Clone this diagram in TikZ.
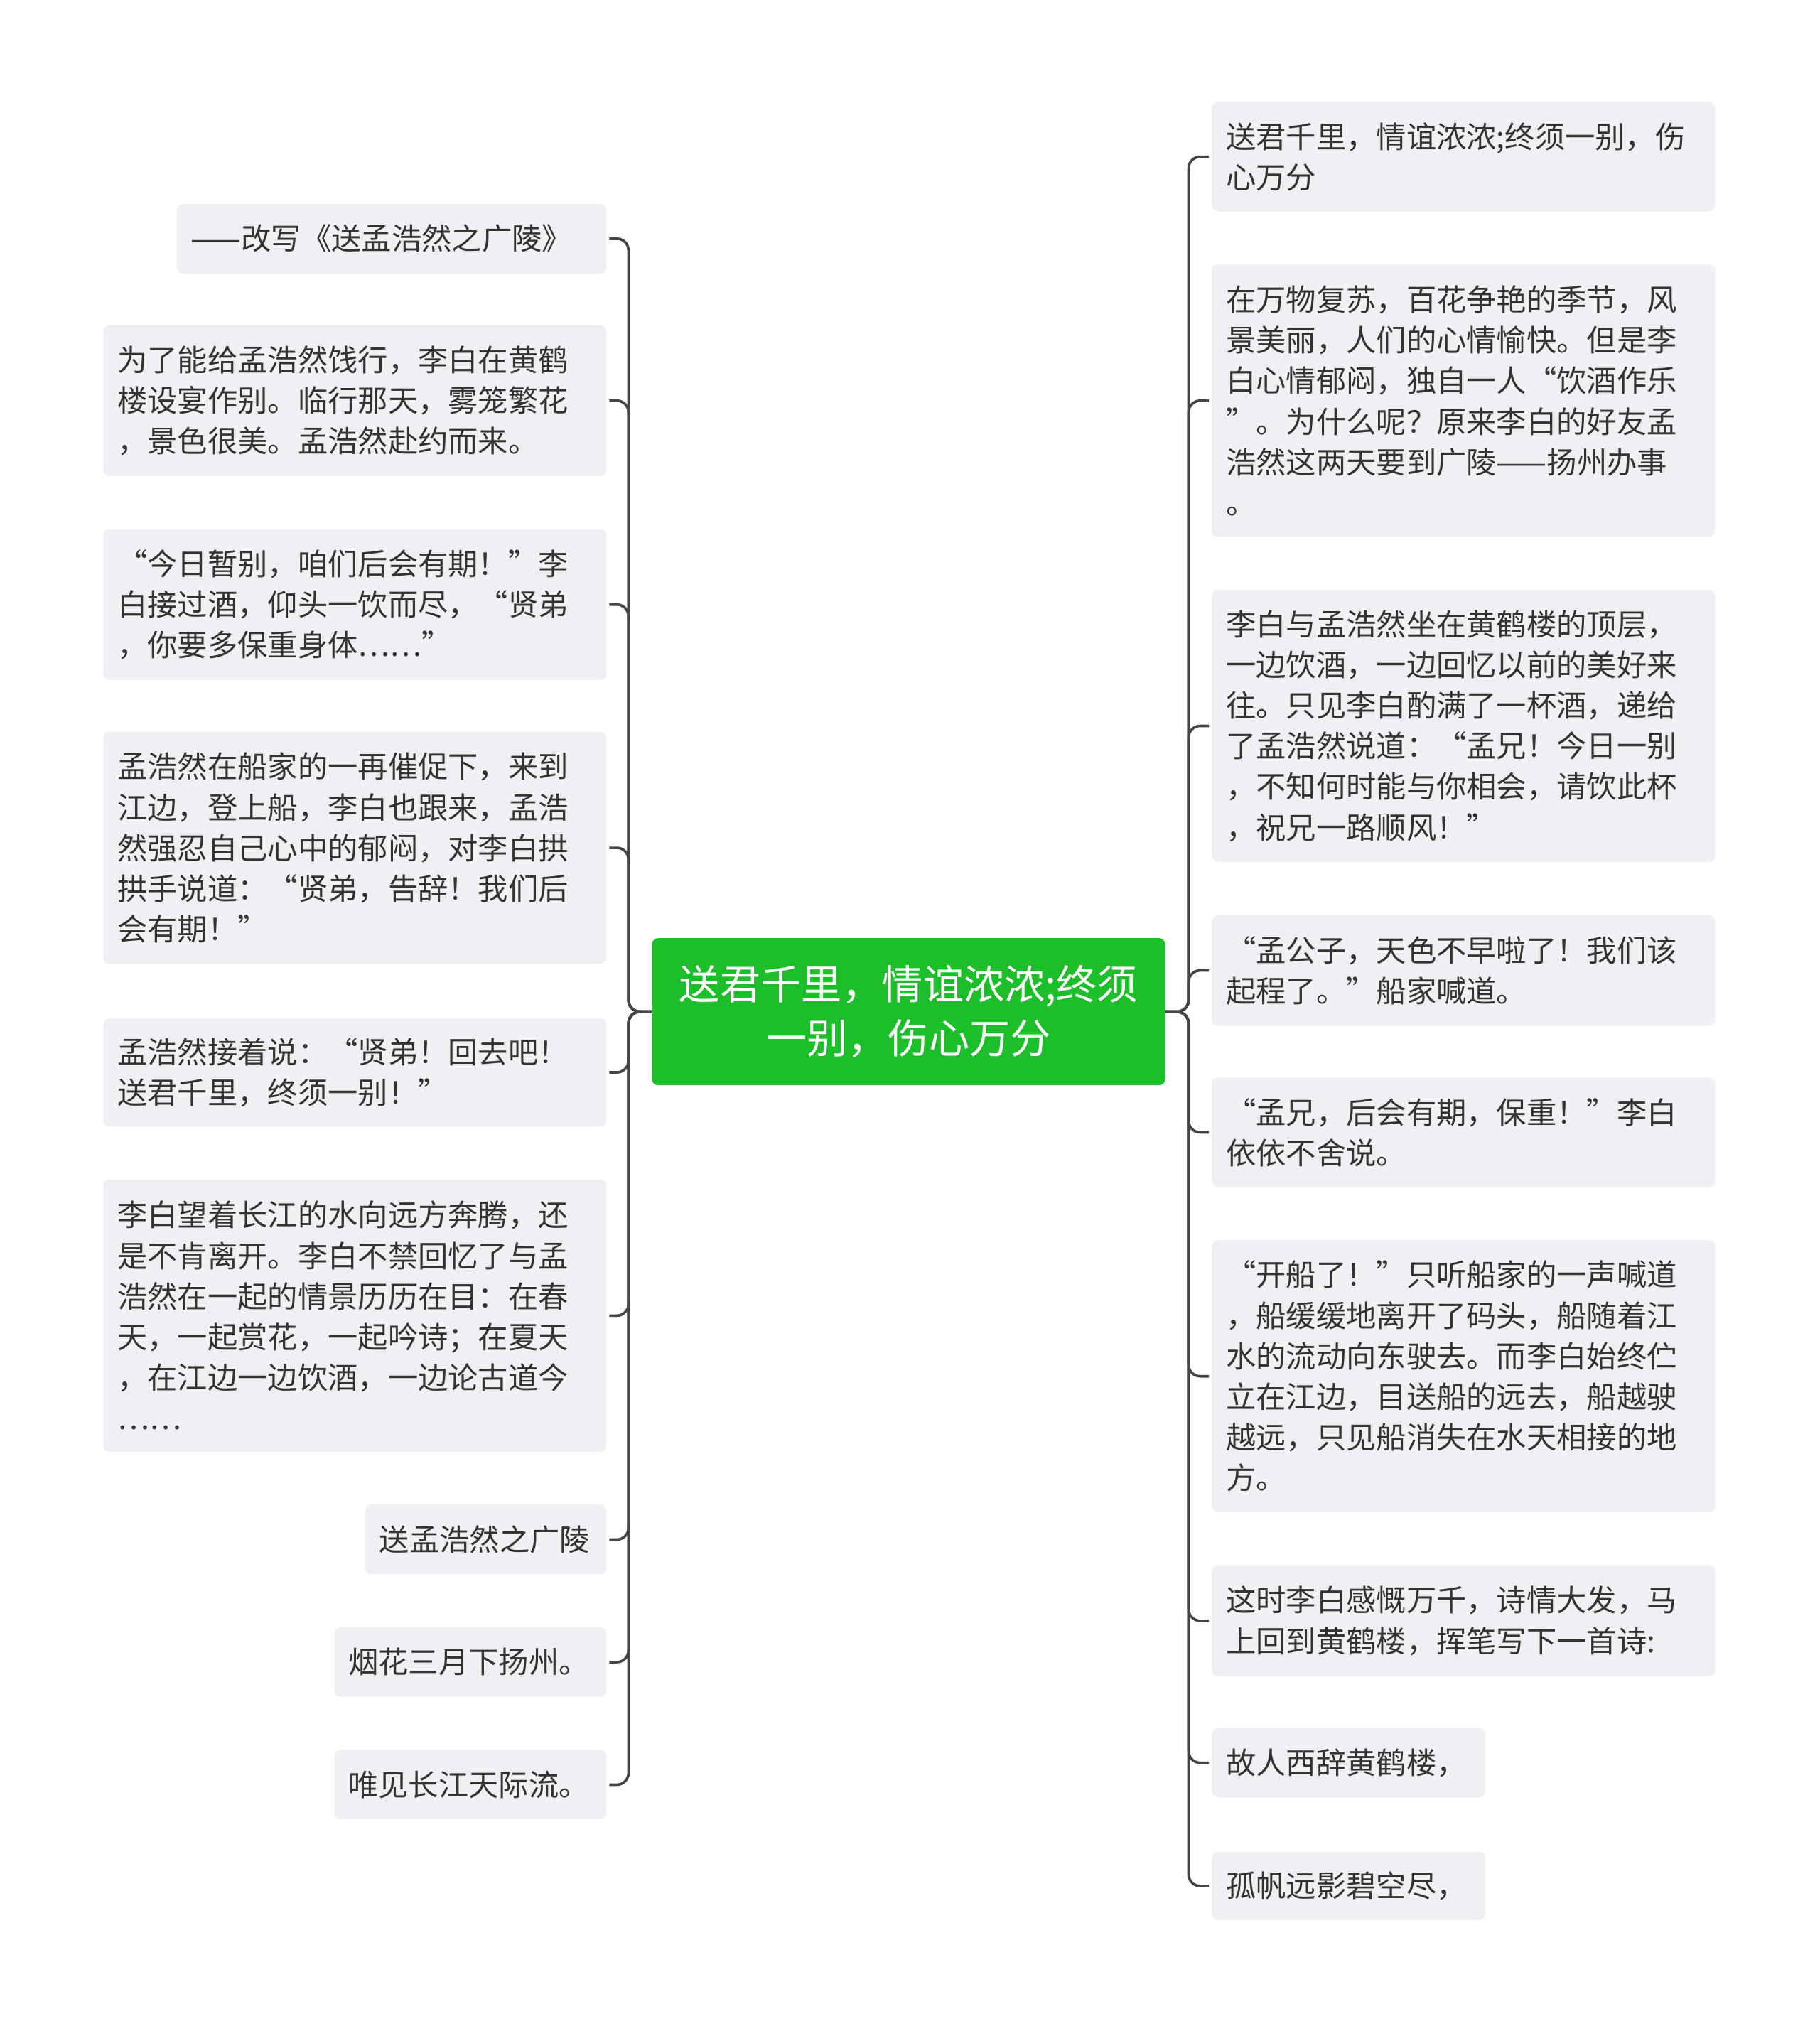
\documentclass[tikz,border=0pt]{standalone}
\usepackage{fontspec}
\setmainfont{Noto Sans CJK SC}
\begin{document}
\begin{tikzpicture}[x=1pt,y=1pt]
\definecolor{boxc}{HTML}{EEF0F3}
\definecolor{txt}{HTML}{333333}
\definecolor{gr}{HTML}{1CBF29}
\definecolor{ln}{HTML}{444444}
\tikzset{bx/.style={fill=boxc,rounded corners=5pt,inner sep=0pt,align=left,text=txt,font=\fontsize{23.3}{31.5}\selectfont},
 con/.style={draw=ln,line width=2pt,rounded corners=9pt}}
\useasboundingbox (0,0) rectangle (1410,-1570);
\fill[white] (0,0) rectangle (1410,-1570);
\newcommand\bx[6]{\node[bx,minimum width=#4-#2,minimum height=#5-#3,text width=#4-#2-22] (#1) at ({(#2+#4)/2+1},{-(#3+#5)/2}) {#6};}
\node[fill=gr,rounded corners=5pt,minimum width=398,minimum height=114,text=white,align=center,font=\fontsize{31.5}{42}\selectfont] (c) at (704,-784) {送君千里，情谊浓浓;终须\\一别，伤心万分};
% left
\bx{l1}{136}{158}{469}{212}{——改写《送孟浩然之广陵》}
\bx{l2}{79}{252}{469}{369}{为了能给孟浩然饯行，李白在黄鹤\\楼设宴作别。临行那天，雾笼繁花\\，景色很美。孟浩然赴约而来。}
\bx{l3}{79}{410}{469}{527}{“今日暂别，咱们后会有期！”李\\白接过酒，仰头一饮而尽，“贤弟\\，你要多保重身体……”}
\bx{l4}{79}{567}{469}{747}{孟浩然在船家的一再催促下，来到\\江边，登上船，李白也跟来，孟浩\\然强忍自己心中的郁闷，对李白拱\\拱手说道：“贤弟，告辞！我们后\\会有期！”}
\bx{l5}{79}{789}{469}{873}{孟浩然接着说：“贤弟！回去吧！\\送君千里，终须一别！”}
\bx{l6}{79}{914}{469}{1125}{李白望着长江的水向远方奔腾，还\\是不肯离开。李白不禁回忆了与孟\\浩然在一起的情景历历在目：在春\\天，一起赏花，一起吟诗；在夏天\\，在江边一边饮酒，一边论古道今\\……}
\bx{l7}{282}{1166}{469}{1220}{送孟浩然之广陵}
\bx{l8}{258}{1261}{469}{1315}{烟花三月下扬州。}
\bx{l9}{258}{1356}{469}{1410}{唯见长江天际流。}
% right
\bx{r1}{938}{79}{1328}{164}{送君千里，情谊浓浓;终须一别，伤\\心万分}
\bx{r2}{938}{205}{1328}{416}{在万物复苏，百花争艳的季节，风\\景美丽，人们的心情愉快。但是李\\白心情郁闷，独自一人“饮酒作乐\\”。为什么呢？原来李白的好友孟\\浩然这两天要到广陵——扬州办事\\。}
\bx{r3}{938}{457}{1328}{668}{李白与孟浩然坐在黄鹤楼的顶层，\\一边饮酒，一边回忆以前的美好来\\往。只见李白酌满了一杯酒，递给\\了孟浩然说道：“孟兄！今日一别\\，不知何时能与你相会，请饮此杯\\，祝兄一路顺风！”}
\bx{r4}{938}{709}{1328}{795}{“孟公子，天色不早啦了！我们该\\起程了。”船家喊道。}
\bx{r5}{938}{835}{1328}{920}{“孟兄，后会有期，保重！”李白\\依依不舍说。}
\bx{r6}{938}{961}{1328}{1172}{“开船了！”只听船家的一声喊道\\，船缓缓地离开了码头，船随着江\\水的流动向东驶去。而李白始终伫\\立在江边，目送船的远去，船越驶\\越远，只见船消失在水天相接的地\\方。}
\bx{r7}{938}{1213}{1328}{1299}{这时李白感慨万千，诗情大发，马\\上回到黄鹤楼，挥笔写下一首诗:}
\bx{r8}{938}{1339}{1150}{1393}{故人西辞黄鹤楼，}
\bx{r9}{938}{1435}{1150}{1488}{孤帆远影碧空尽，}
\coordinate (lt) at (487,-784);
\coordinate (rt) at (921,-784);
\foreach \n in {l1,l2,l3,l4,l5,l6,l7,l8,l9}{\draw[con] (c.west) -- (lt) |- ([xshift=2pt]\n.east);}
\foreach \n in {r1,r2,r3,r4,r5,r6,r7,r8,r9}{\draw[con] (c.east) -- (rt) |- ([xshift=-2pt]\n.west);}
\end{tikzpicture}
\end{document}
